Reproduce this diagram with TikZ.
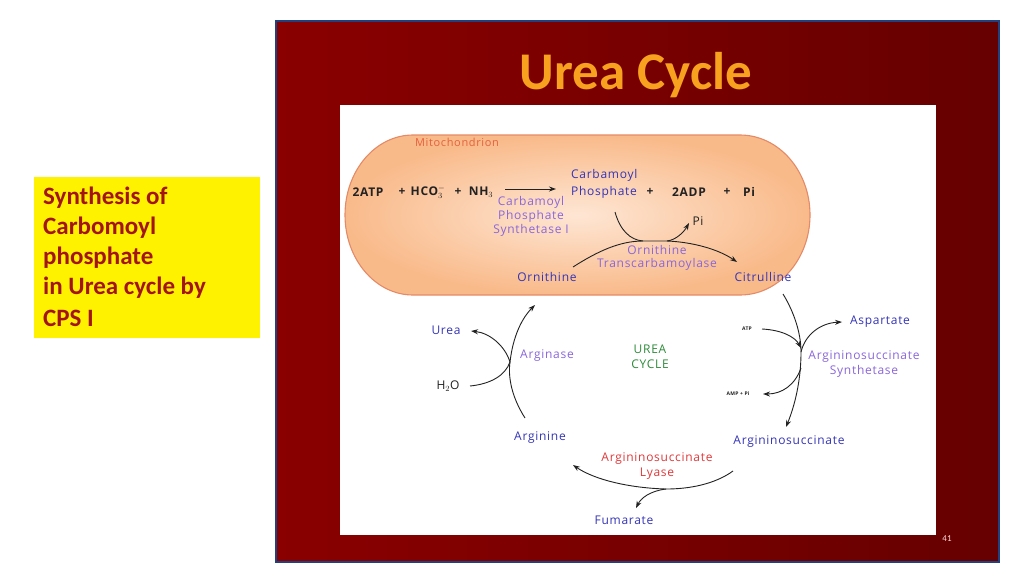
\documentclass[tikz,border=0pt]{standalone}
\usepackage{fontspec}
\setmainfont{Carlito}
\newfontfamily\dfont[LetterSpace=6]{Open Sans}
\usetikzlibrary{arrows.meta}
\definecolor{slideL}{HTML}{8A0000}
\definecolor{slideR}{HTML}{660000}
\definecolor{frameblue}{HTML}{22407E}
\definecolor{titleor}{HTML}{F7A11E}
\definecolor{boxred}{HTML}{A31515}
\definecolor{metblue}{HTML}{3434B8}
\definecolor{enzpurple}{HTML}{8A66DA}
\definecolor{lyred}{HTML}{E0383A}
\definecolor{cycgreen}{HTML}{2E8B3A}
\definecolor{mitoedge}{HTML}{E58A66}
\definecolor{mitolabel}{HTML}{E6603C}
\definecolor{mitoin}{HTML}{FEE6D4}
\definecolor{mitoout}{HTML}{F9BA8A}
\definecolor{inkc}{HTML}{222222}
\tikzset{
  txt/.style={inner sep=0pt, font=\dfont\fontsize{12}{14}\selectfont},
  met/.style={txt, text=metblue},
  enz/.style={txt, text=enzpurple},
  blk/.style={txt, text=inkc, font=\dfont\bfseries\fontsize{12}{14}\selectfont},
  tiny/.style={inner sep=0pt, text=inkc, font=\dfont\bfseries\fontsize{5}{6}\selectfont},
  arr/.style={draw=inkc, line width=0.9pt, -{Stealth[length=7pt,width=5pt]}},
  ln/.style={draw=inkc, line width=0.9pt},
  boxtxt/.style={inner sep=0pt, anchor=west, text=boxred, font=\bfseries\fontsize{25}{30}\selectfont},
}
\begin{document}
\begin{tikzpicture}[x=1pt,y=-1pt]
\useasboundingbox (0,0) rectangle (1024,576);
\fill[white] (0,0) rectangle (1024,576);
% slide
\shade[left color=slideL, right color=slideR] (276,21) rectangle (999,562);
\draw[frameblue, line width=1.6pt] (276,21) rectangle (999,562);
\node[inner sep=0pt, text=titleor, font=\bfseries\fontsize{53}{58}\selectfont] (title) at (636,75.5) {Urea Cycle};
\fill[white] (340,105) rectangle (936,535);
\node[inner sep=0pt, text=white!85!red, font=\fontsize{9}{10}\selectfont] (pg) at (947,539) {41};
% yellow box
\fill[yellow] (34,177) rectangle (260,338);
\node[boxtxt] (b1) at (43,198) {Synthesis of};
\node[boxtxt] (b2) at (43,228) {Carbomoyl};
\node[boxtxt] (b3) at (43,258) {phosphate};
\node[boxtxt] (b4) at (43,288) {in Urea cycle by};
\node[boxtxt] (b5) at (43,318) {CPS I};
% mitochondrion
\shade[inner color=mitoin, outer color=mitoout, draw=mitoedge, line width=1.1pt]
  (413,135) -- (740,135) arc[start angle=-90, end angle=90, x radius=70, y radius=80]
  -- (413,295) arc[start angle=90, end angle=270, x radius=68, y radius=80] -- cycle;
\node[inner sep=0pt, text=mitolabel, font=\dfont\fontsize{11}{12}\selectfont] (mito) at (457,142) {Mitochondrion};
% CPS I reaction
\node[blk] (atp2) at (368,192) {2ATP};
\node[blk] (p1) at (402,192) {+};
\node[blk] (hco) at (428,192) {HCO$_3^{-}$};
\node[blk] (p2) at (458,192) {+};
\node[blk] (nh3) at (481,192) {NH$_3$};
\coordinate (a1s) at (505,189);
\coordinate (a1e) at (556,189);
\draw[arr] (a1s) -- (a1e);
\node[enz, align=center, font=\dfont\fontsize{12}{14}\selectfont] (cps) at (531,216) {Carbamoyl\\Phosphate\\Synthetase I};
\node[met, align=left, anchor=west, font=\dfont\fontsize{12}{16.5}\selectfont] (cp) at (571,184) {Carbamoyl\\Phosphate};
\node[blk] (p3) at (650,192) {+};
\node[blk] (adp) at (689,192) {2ADP};
\node[blk] (p4) at (727,192) {+};
\node[blk] (pi1) at (749,192) {Pi};
% OTC
\node[met] (orn) at (547,277) {Ornithine};
\node[met] (cit) at (763,277) {Citrulline};
\node[enz, align=center, font=\dfont\fontsize{12}{13.5}\selectfont] (otc) at (657,258) {Ornithine\\Transcarbamoylase};
\node[txt, text=inkc] (pi2) at (698,221) {Pi};
\coordinate (os) at (573,267);
\coordinate (ce) at (737,262);
\coordinate (cps2) at (615,212);
\coordinate (pie) at (689,223);
\coordinate (h1) at (643,241);
\coordinate (h2) at (667,241);
\draw[ln] (os) .. controls (598,251) and (620,241) .. (h1) -- (h2);
\draw[arr] (h2) .. controls (692,242) and (718,249) .. (ce);
\draw[ln] (cps2) .. controls (620,230) and (630,240) .. (h1);
\draw[arr] (h2) .. controls (676,240) and (684,232) .. (pie);
% Argininosuccinate synthetase
\node[tiny] (atpS) at (747,329) {ATP};
\node[tiny] (amp) at (738,394) {AMP + Pi};
\node[met] (asp) at (880,322) {Aspartate};
\node[enz, align=center, font=\dfont\fontsize{12}{15}\selectfont] (ass) at (864,364) {Argininosuccinate\\Synthetase};
\node[met] (asuc) at (789,442) {Argininosuccinate};
\coordinate (cs) at (783,294);
\coordinate (ae) at (786,427);
\coordinate (atpst) at (762,329);
\coordinate (aspe) at (842,322);
\coordinate (ampe) at (763,394);
\coordinate (hs) at (801,352);
\coordinate (hs1) at (801,348);
\coordinate (hs2) at (801,368);
\draw[ln] (cs) .. controls (794,312) and (801,333) .. (hs);
\draw[arr] (hs) .. controls (801,380) and (795,405) .. (ae);
\draw[arr] (atpst) .. controls (782,330) and (795,337) .. (hs1);
\draw[arr] (hs) .. controls (805,335) and (820,323) .. (aspe);
\draw[arr] (hs2) .. controls (795,385) and (782,394) .. (ampe);
% Argininosuccinate lyase
\node[enz, align=center, text=lyred, font=\dfont\fontsize{12}{15}\selectfont] (asl) at (657,466) {Argininosuccinate\\Lyase};
\node[met] (arg) at (540,438) {Arginine};
\node[met] (fum) at (624,520) {Fumarate};
\coordinate (ls) at (733,471);
\coordinate (le) at (573,465);
\coordinate (fe) at (636,508);
\coordinate (hl) at (666,489);
\draw[ln] (ls) .. controls (715,484) and (690,489) .. (hl);
\draw[arr] (hl) .. controls (630,488) and (595,480) .. (le);
\draw[arr] (hl) .. controls (650,491) and (641,498) .. (fe);
% Arginase
\node[met] (urea) at (446,330) {Urea};
\node[txt, text=inkc] (h2o) at (448,386) {H$_2$O};
\node[enz] (argase) at (547,356) {Arginase};
\node[txt, text=cycgreen, align=center, font=\dfont\fontsize{12}{15}\selectfont] (cyc) at (650,357) {UREA\\CYCLE};
\coordinate (as) at (525,418);
\coordinate (oe) at (535,305);
\coordinate (ue) at (471,331);
\coordinate (hs3) at (470,386);
\coordinate (ha) at (510,362);
\draw[ln] (as) .. controls (511,396) and (508,376) .. (ha);
\draw[arr] (ha) .. controls (513,336) and (522,318) .. (oe);
\draw[arr] (ha) .. controls (505,346) and (490,333) .. (ue);
\draw[ln] (hs3) .. controls (490,384) and (505,376) .. (ha);
\end{tikzpicture}
\end{document}
